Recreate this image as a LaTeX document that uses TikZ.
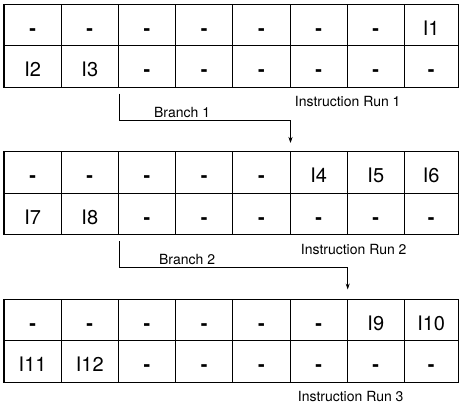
\documentclass[tikz,border=0pt]{standalone}
\usepackage{fontspec}
\setmainfont{TeX Gyre Heros}
\usetikzlibrary{arrows.meta, positioning}

\newcommand{\nix}{\textbf{-}}

\begin{document}
\begin{tikzpicture}[
    x=1pt, y=-1pt,
    cell/.style = {draw, line width=1pt, minimum height=41.5pt,
                   inner sep=0pt, text height=21pt, text depth=0pt,
                   font=\fontsize{20}{24}\selectfont},
    lbl/.style  = {inner sep=0pt, font=\fontsize{14}{16}\selectfont},
    arr/.style  = {-{Stealth[length=6pt, width=4pt]}, line width=0.8pt}
  ]
  \useasboundingbox (0,0) rectangle (459,407);

  % cells: run / top of grid / upper row / lower row
  \foreach \r/\top/\up/\lo in {
      1/4/{\nix,\nix,\nix,\nix,\nix,\nix,\nix,I1}/{I2,I3,\nix,\nix,\nix,\nix,\nix,\nix},
      2/151.5/{\nix,\nix,\nix,\nix,\nix,I4,I5,I6}/{I7,I8,\nix,\nix,\nix,\nix,\nix,\nix},
      3/299/{\nix,\nix,\nix,\nix,\nix,\nix,I9,I10}/{I11,I12,\nix,\nix,\nix,\nix,\nix,\nix}} {
    \foreach \txt [count=\c, evaluate=\c as \cx using {\c<8 ? 4+57.2*(\c-0.5) : 431.2},
                   evaluate=\c as \cw using {\c<8 ? 57.2 : 53.6}] in \up
      \node[cell, minimum width=\cw pt] (r\r a\c) at (\cx, \top+20.75) {\txt};
    \foreach \txt [count=\c, evaluate=\c as \cx using {\c<8 ? 4+57.2*(\c-0.5) : 431.2},
                   evaluate=\c as \cw using {\c<8 ? 57.2 : 53.6}] in \lo
      \node[cell, minimum width=\cw pt] (r\r b\c) at (\cx, \top+62.25) {\txt};
  }

  % labels
  \node[lbl] (run1) [below=9pt of r1b6.south east] {Instruction Run 1};
  \node[lbl] (run2) [below=9pt of r2b6.south east, xshift=6pt] {Instruction Run 2};
  \node[lbl] (run3) [below=9pt of r3b6.south east, xshift=3pt] {Instruction Run 3};

  % branches
  \coordinate[below=6pt of r1b2.south east] (b1s);
  \coordinate[below=33pt of r1b2.south east] (b1k);
  \coordinate[above=8pt of r2a5.north east] (b1e);
  \coordinate[below=6pt of r2b2.south east] (b2s);
  \coordinate[below=32.5pt of r2b2.south east] (b2k);
  \coordinate[above=9pt of r3a6.north east] (b2e);

  \draw[arr] (b1s) -- (b1k) -| (b1e);
  \draw[arr] (b2s) -- (b2k) -| (b2e);

  \node[lbl, anchor=south west] (br1) [above right=3pt and 35pt of b1k] {Branch 1};
  \node[lbl, anchor=south west] (br2) [above right=3pt and 40pt of b2k] {Branch 2};

\end{tikzpicture}
\end{document}
